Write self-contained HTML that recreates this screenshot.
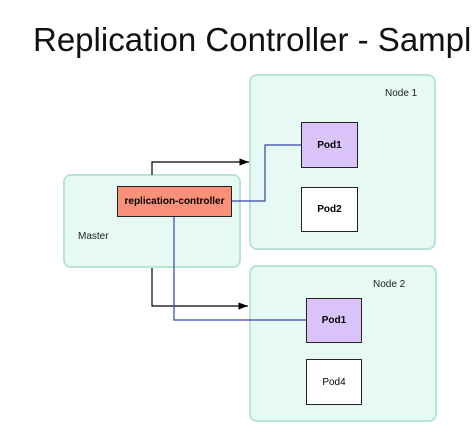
<!DOCTYPE html>
<html><head><style>
body{margin:0;width:474px;height:436px;background:#fff;overflow:hidden;position:relative;font-family:"Liberation Sans",sans-serif}
.t{position:absolute;left:33px;top:21px;font-size:33px;white-space:nowrap;color:#111}
.b{position:absolute;box-sizing:border-box}
.n{background:#e6faf3;border:2px solid #b9e3d3;border-radius:8px}
.p{border:1.5px solid #222;display:flex;align-items:center;justify-content:center;font-size:10px;font-weight:bold}
.l{position:absolute;font-size:10px;color:#222}
</style></head><body>
<div class="t">Replication Controller - Sampl</div>
<div class="b n" style="left:249px;top:74px;width:187px;height:176px"></div>
<div class="l" style="left:385px;top:88px">Node 1</div>
<div class="b n" style="left:249px;top:265px;width:188px;height:157px"></div>
<div class="l" style="left:373px;top:279px">Node 2</div>
<div class="b n" style="left:63px;top:174px;width:178px;height:94px"></div>
<div class="l" style="left:78px;top:231px">Master</div>
<svg class="b" style="left:0;top:0" width="474" height="436">
<defs><marker id="a" markerWidth="8" markerHeight="6" refX="8" refY="3" orient="auto"><path d="M0,0L8,3L0,6z" fill="#000"/></marker></defs>
<polyline points="152,175 152,162 249,162" fill="none" stroke="#000" stroke-width="1.2" marker-end="url(#a)"/>
<polyline points="152,268 152,306 248,306" fill="none" stroke="#000" stroke-width="1.2" marker-end="url(#a)"/>
<polyline points="232,201 265,201 265,145 301,145" fill="none" stroke="#3344aa" stroke-width="1.2"/>
<polyline points="174,217 174,320 306,320" fill="none" stroke="#3344aa" stroke-width="1.2"/>
</svg>
<div class="b p" style="left:117px;top:186px;width:115px;height:31px;background:#f9917a">replication-controller</div>
<div class="b p" style="left:301px;top:122px;width:57px;height:46px;background:#d9c3f8">Pod1</div>
<div class="b p" style="left:301px;top:187px;width:57px;height:45px;background:#fff">Pod2</div>
<div class="b p" style="left:306px;top:298px;width:56px;height:45px;background:#d9c3f8">Pod1</div>
<div class="b p" style="left:306px;top:359px;width:56px;height:46px;background:#fff;font-weight:normal">Pod4</div>
</body></html>
